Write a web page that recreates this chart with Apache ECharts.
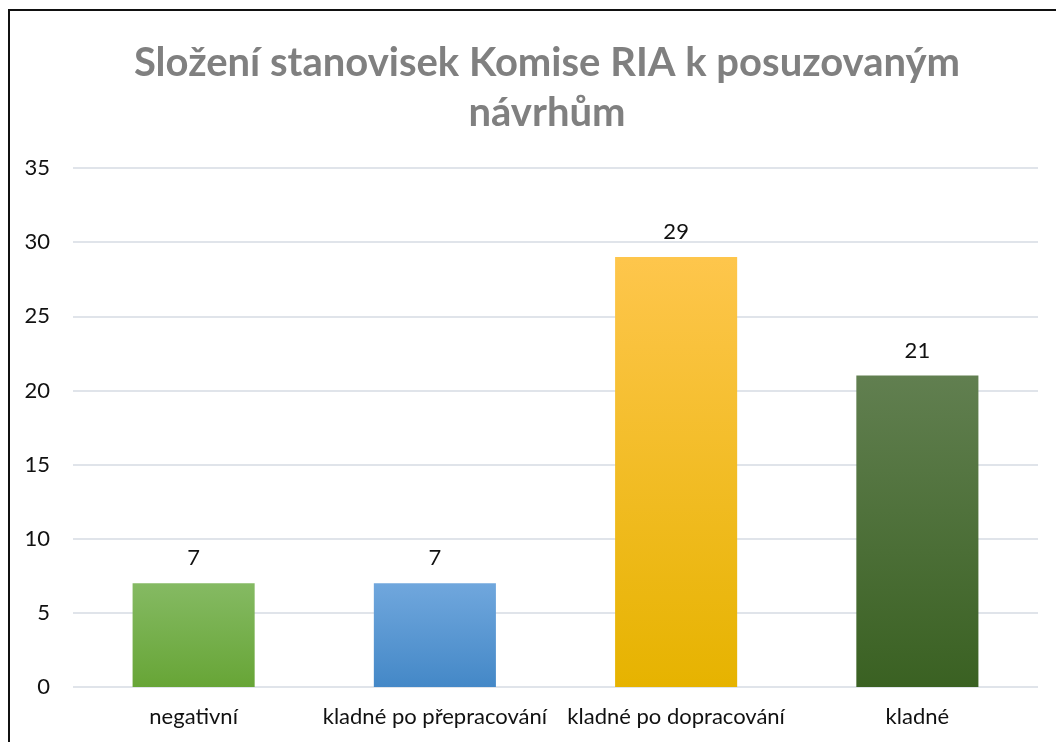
<!DOCTYPE html>
<html>
<head>
<meta charset="utf-8">
<script src="https://cdn.jsdelivr.net/npm/echarts@6/dist/echarts.min.js"></script>
<style>
  html, body { margin: 0; padding: 0; background: #fff; }
  #chart { width: 1056px; height: 742px; }
  #frame { position: absolute; left: 8px; top: 9px; width: 1060px; height: 740px;
           border-left: 2px solid #111; border-top: 2px solid #111; pointer-events: none; }
</style>
</head>
<body>
<div id="chart"></div>
<div id="frame"></div>
<script>
var categories = ['negativní', 'kladné po přepracování', 'kladné po dopracování', 'kladné'];
var values = [7, 7, 29, 21];
var topColors = ['#85ba63', '#70a7dd', '#fec64c', '#617f50'];
var bottomColors = ['#67a536', '#4488c7', '#e6b300', '#3a6122'];
var yTicks = [0, 35, 5];

var fontName = 'Lato, "Open Sans", sans-serif';

var data = values.map(function (v, i) {
  return {
    value: v,
    itemStyle: {
      color: new echarts.graphic.LinearGradient(0, 0, 0, 1, [
        { offset: 0, color: topColors[i] },
        { offset: 1, color: bottomColors[i] }
      ])
    }
  };
});

var myChart = echarts.init(document.getElementById('chart'));
var option = {
  animation: false,
  title: {
    text: 'Složení stanovisek Komise RIA k posuzovaným\nnávrhům',
    left: 542,
    top: 33,
    textAlign: 'center',
    textStyle: {
      fontFamily: fontName,
      fontSize: 40,
      fontWeight: 'bold',
      color: '#808080',
      lineHeight: 50
    }
  },
  grid: { left: 73, right: 18, top: 168, bottom: 55 },
  xAxis: {
    type: 'category',
    data: categories,
    axisLine: { show: false },
    axisTick: { show: false },
    axisLabel: { color: '#111', fontSize: 22, fontFamily: fontName, margin: 19, interval: 0 }
  },
  yAxis: {
    type: 'value',
    min: yTicks[0],
    max: yTicks[1],
    interval: yTicks[2],
    axisLabel: { color: '#111', fontSize: 22, fontFamily: fontName, margin: 23 },
    splitLine: { lineStyle: { color: '#e0e4ea', width: 2 } }
  },
  series: [
    {
      type: 'bar',
      data: data,
      barWidth: '50.6%',
      label: {
        show: true,
        position: 'top',
        distance: 14,
        color: '#111',
        fontSize: 22,
        fontFamily: fontName
      }
    }
  ]
};
myChart.setOption(option);
</script>
</body>
</html>
